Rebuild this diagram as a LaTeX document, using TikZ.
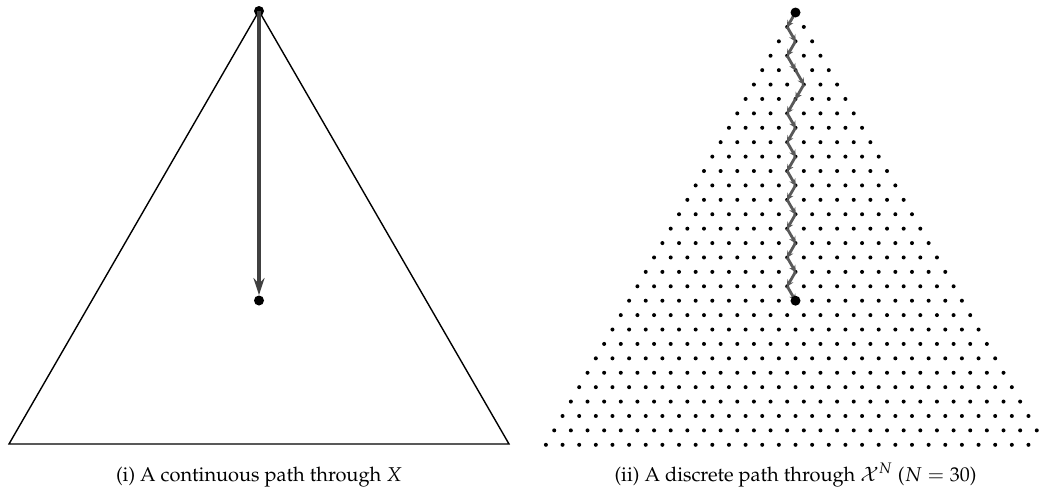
\documentclass[tikz,border=0pt]{standalone}
\usepackage[T1]{fontenc}
\usepackage{mathpazo}
\usetikzlibrary{arrows.meta}
\tikzset{
  bigdot/.style={circle,fill=black,inner sep=0pt,minimum size=5pt},
  latdot/.style={circle,fill=black,inner sep=0pt,minimum size=2pt},
  tri/.style={line width=0.7pt,black},
  contarrow/.style={line width=1.6pt,draw=black!75,-{Stealth[length=8.5pt,width=5.5pt]}},
  steparrow/.style={line width=1.4pt,draw=black!65,-{Stealth[length=3.5pt,width=3.4pt]},shorten >=-0.3pt},
  caption/.style={anchor=base,font=\fontsize{10}{12}\selectfont,inner sep=0pt}
}
\begin{document}
\begin{tikzpicture}[x=0.5pt,y=-0.5pt]
\useasboundingbox (0,0) rectangle (1039,493);
\clip (0,0) rectangle (1039,493);
% left: continuous triangle
\coordinate (T) at (259,11);
\coordinate (L) at (9,444);
\coordinate (R) at (509,444);
\draw[tri] (T) -- (L) -- (R) -- cycle;
\node[bigdot] (A) at (259,11) {};
\node[bigdot] (B) at (259,300.5) {};
\draw[contarrow] (A.center) -- (B);
\node[caption] (capi) at (259,481) {(i) A continuous path through $X$};
% right: discrete lattice
\foreach \k in {0,...,30}{
  \foreach \j in {0,...,\k}{
    \coordinate (p-\k-\j) at ({795.5+(\j-\k/2)*16.64},{12.5+\k*14.41});
    \node[latdot] (d-\k-\j) at (p-\k-\j) {};
  }
}
\foreach \a/\b in {0-0/1-0,1-0/2-1,2-1/3-1,3-1/4-2,4-2/5-3,5-3/6-3,6-3/7-3,7-3/8-4,8-4/9-4,9-4/10-5,10-5/11-5,11-5/12-6,12-6/13-6,13-6/14-7,14-7/15-7,15-7/16-8,16-8/17-8,17-8/18-9,18-9/19-9,19-9/20-10}{
  \draw[steparrow] (p-\a) -- (p-\b);
}
\node[bigdot] (C) at (p-0-0) {};
\node[bigdot] (D) at (p-20-10) {};
\node[caption] (capii) at (795.5,481) {(ii) A discrete path through $\mathcal{X}^N$ ($N=30$)};
\end{tikzpicture}
\end{document}
